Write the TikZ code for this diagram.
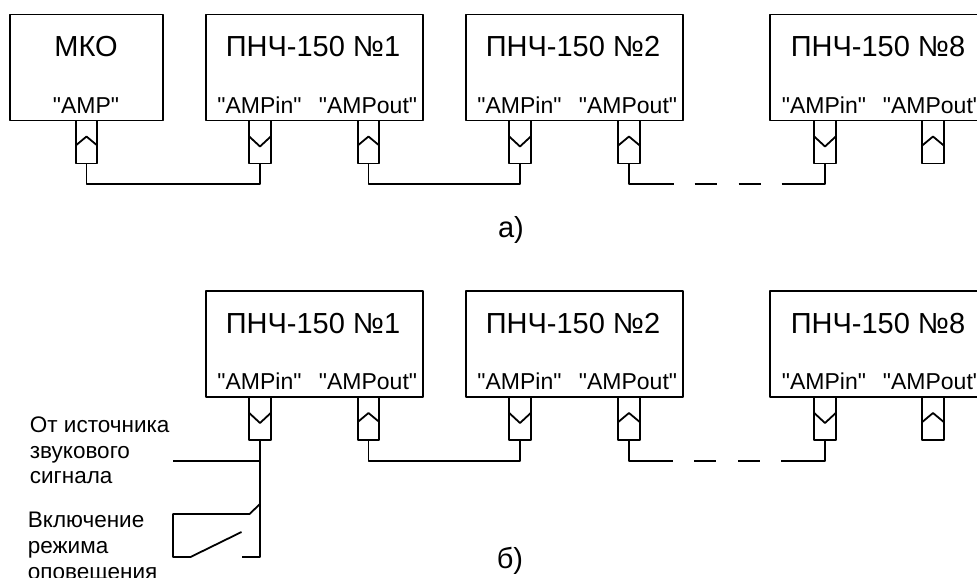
\documentclass[tikz,border=0pt]{standalone}
\usepackage{fontspec}
\setmainfont{Liberation Sans}[Ligatures=TeXOff]
\begin{document}
\begin{tikzpicture}[x=1pt, y=-1pt, line width=1.8pt, line join=round,
  unitbox/.style={draw, rectangle, anchor=north west, inner sep=0pt, outer sep=0pt, minimum height=106},
  title/.style={anchor=base, inner sep=0pt, font=\fontsize{29}{29}\selectfont},
  port/.style={anchor=base, inner sep=0pt, font=\fontsize{23}{23}\selectfont},
  note/.style={anchor=base west, inner sep=0pt, font=\fontsize{22.5}{22.5}\selectfont},
  plugup/.style={draw, rectangle, anchor=north, inner sep=0pt, outer sep=0pt, minimum width=21.5, minimum height=43,
    path picture={\draw (path picture bounding box.north west) ++(0,25) -- ++(10.75,-9) -- ++(10.75,9);}},
  plugdown/.style={draw, rectangle, anchor=north, inner sep=0pt, outer sep=0pt, minimum width=21.5, minimum height=43,
    path picture={\draw (path picture bounding box.north west) ++(0,16) -- ++(10.75,10) -- ++(10.75,-10);}}]
  \useasboundingbox (0,0) rectangle (977,578);
  \clip (0,0) rectangle (977,578);
  % верхняя схема
  \node[unitbox, minimum width=153] (mko) at (10,14.5) {};
  \node[unitbox, minimum width=217] (a1) at (206,14.5) {};
  \node[unitbox, minimum width=217] (a2) at (466,14.5) {};
  \node[unitbox, minimum width=217] (a8) at (770,14.5) {};
  \node[title] (mkot) at (86,57) {МКО};
  \node[title] (a1t) at (313,57) {ПНЧ-150 №1};
  \node[title] (a2t) at (573,57) {ПНЧ-150 №2};
  \node[title] (a8t) at (878,57) {ПНЧ-150 №8};
  \node[port] (mkol) at (86,113) {"AMP"};
  \node[port] (a1il) at (259.5,113) {"AMPin"}; \node[port] (a1ol) at (368,113) {"AMPout"};
  \node[port] (a2il) at (519.5,113) {"AMPin"}; \node[port] (a2ol) at (628,113) {"AMPout"};
  \node[port] (a8il) at (824,113) {"AMPin"}; \node[port] (a8ol) at (932,113) {"AMPout"};
  \node[plugup] (mkop) at (86.5,120.5) {};
  \node[plugdown] (a1i) at (260,120.5) {}; \node[plugup] (a1o) at (368.5,120.5) {};
  \node[plugdown] (a2i) at (520,120.5) {}; \node[plugup] (a2o) at (629,120.5) {};
  \node[plugdown] (a8i) at (825,120.5) {}; \node[plugup] (a8o) at (933,120.5) {};
  \draw (mkop.south) -- ++(0,20.5) -| (a1i.south);
  \draw (a1o.south) -- ++(0,20.5) -| (a2i.south);
  \draw[dash pattern=on 65pt off 21pt on 22pt off 22pt on 22pt off 21pt on 70pt] (a2o.south) -- ++(0,20.5) -| (a8i.south);
  \node[title] (capa) at (511,237) {а)};
  % нижняя схема
  \node[unitbox, minimum width=217] (b1) at (206,291) {};
  \node[unitbox, minimum width=217] (b2) at (466,291) {};
  \node[unitbox, minimum width=217] (b8) at (770,291) {};
  \node[title] (b1t) at (313,333) {ПНЧ-150 №1};
  \node[title] (b2t) at (573,333) {ПНЧ-150 №2};
  \node[title] (b8t) at (878,333) {ПНЧ-150 №8};
  \node[port] (b1il) at (259.5,389) {"AMPin"}; \node[port] (b1ol) at (368,389) {"AMPout"};
  \node[port] (b2il) at (519.5,389) {"AMPin"}; \node[port] (b2ol) at (628,389) {"AMPout"};
  \node[port] (b8il) at (824,389) {"AMPin"}; \node[port] (b8ol) at (932,389) {"AMPout"};
  \node[plugdown] (b1i) at (260,397) {}; \node[plugup] (b1o) at (368.5,397) {};
  \node[plugdown] (b2i) at (520,397) {}; \node[plugup] (b2o) at (629,397) {};
  \node[plugdown] (b8i) at (825,397) {}; \node[plugup] (b8o) at (933,397) {};
  \draw (b1o.south) -- ++(0,21) -| (b2i.south);
  \draw[dash pattern=on 65pt off 21pt on 22pt off 22pt on 22pt off 21pt on 70pt] (b2o.south) -- ++(0,21) -| (b8i.south);
  \node[title] (capb) at (510,568) {б)};
  % источник и контакт
  \coordinate (src) at (173,461);
  \coordinate (k1) at (173,514); \coordinate (k2) at (249.5,514);
  \coordinate (k3) at (173,557); \coordinate (k4) at (190.5,557); \coordinate (k5) at (241.5,532);
  \coordinate (k6) at (242,557);
  \draw (b1i.south) |- (k6);
  \draw (src) -| (b1i.south);
  \draw (b1i.south |- 0,504) -- (k2) -- (k1) -- (k3) -- (k4) -- (k5);
  \node[note] (n1) at (29,432) {От источника};
  \node[note] (n2) at (29,458) {звукового};
  \node[note] (n3) at (29,483.5) {сигнала};
  \node[note] (n4) at (27,527) {Включение};
  \node[note] (n5) at (27,553) {режима};
  \node[note] (n6) at (27,579) {оповещения};
\end{tikzpicture}
\end{document}
